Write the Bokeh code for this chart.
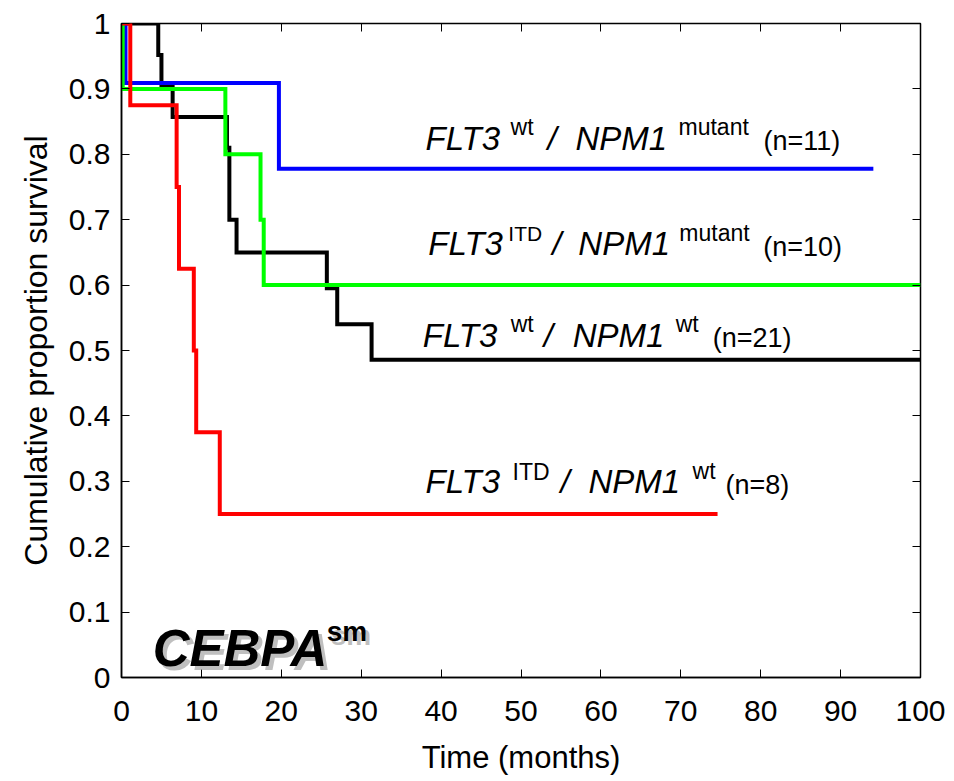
from bokeh.plotting import figure
from bokeh.models import Range1d, LinearAxis, FixedTicker, Label
from bokeh.embed import file_html
from bokeh.resources import INLINE

# Kaplan-Meier curves: event times (months) and survival after each step
wt_wt_time = [0, 4.6, 5.0, 6.4, 13.2, 13.5, 14.4, 25.7, 27.0, 31.3, 100]
wt_wt_surv = [1.0, 0.952, 0.905, 0.857, 0.81, 0.70, 0.65, 0.595, 0.54, 0.486, 0.486]

wt_mut_time = [0, 0.5, 19.7, 94.1]
wt_mut_surv = [1.0, 0.909, 0.778, 0.778]

itd_mut_time = [0, 0.15, 13.0, 17.4, 17.8, 100]
itd_mut_surv = [1.0, 0.9, 0.8, 0.7, 0.6, 0.6]

itd_wt_time = [0, 1.1, 6.9, 7.2, 9.05, 9.35, 12.3, 74.6]
itd_wt_surv = [1.0, 0.875, 0.75, 0.625, 0.5, 0.375, 0.25, 0.25]

# group sizes
n_wt_mut = 11
n_itd_mut = 10
n_wt_wt = 21
n_itd_wt = 8

x_ticks = [0, 10, 20, 30, 40, 50, 60, 70, 80, 90, 100]
y_ticks = [0, 0.1, 0.2, 0.3, 0.4, 0.5, 0.6, 0.7, 0.8, 0.9, 1]
y_tick_labels = ["0", "0.1", "0.2", "0.3", "0.4", "0.5", "0.6", "0.7", "0.8", "0.9", "1"]

FONT = "Liberation Sans"

p = figure(
    width=954, height=781,
    x_range=Range1d(0, 100), y_range=Range1d(0, 1),
    output_backend="svg", toolbar_location=None,
    min_border_left=121, min_border_right=34,
    min_border_top=23, min_border_bottom=104,
)
p.background_fill_color = "white"
p.border_fill_color = "white"
p.outline_line_color = "black"
p.outline_line_width = 1.5
p.xgrid.visible = False
p.ygrid.visible = False

# bottom axis
xa = p.xaxis[0]
xa.ticker = FixedTicker(ticks=x_ticks)
xa.major_tick_in = 8
xa.major_tick_out = 0
xa.minor_tick_line_color = None
xa.major_tick_line_color = "black"
xa.axis_line_color = "black"
xa.axis_line_width = 1.5
xa.major_label_text_font = FONT
xa.major_label_text_font_size = "30px"
xa.major_label_text_color = "black"
xa.major_label_standoff = 23
xa.axis_label = "Time (months)"
xa.axis_label_text_font = FONT
xa.axis_label_text_font_size = "31px"
xa.axis_label_text_font_style = "normal"
xa.axis_label_text_color = "black"
xa.axis_label_standoff = 16

# left axis
ya = p.yaxis[0]
ya.ticker = FixedTicker(ticks=y_ticks)
ya.major_label_overrides = dict(zip(y_ticks, y_tick_labels))
ya.major_tick_in = 8
ya.major_tick_out = 0
ya.minor_tick_line_color = None
ya.major_tick_line_color = "black"
ya.axis_line_color = "black"
ya.axis_line_width = 1.5
ya.major_label_text_font = FONT
ya.major_label_text_font_size = "30px"
ya.major_label_text_color = "black"
ya.major_label_standoff = 11
ya.axis_label = "Cumulative proportion survival"
ya.axis_label_text_font = FONT
ya.axis_label_text_font_size = "32px"
ya.axis_label_text_font_style = "normal"
ya.axis_label_text_color = "black"
ya.axis_label_standoff = 12

# mirrored tick marks on the top and right edges
for ticks, side in ((x_ticks, "above"), (y_ticks, "right")):
    ax = LinearAxis(
        ticker=FixedTicker(ticks=ticks),
        major_tick_in=8, major_tick_out=0,
        minor_tick_line_color=None,
        axis_line_color=None,
        major_label_text_color=None,
        major_label_text_font_size="1px",
        major_label_standoff=0,
    )
    p.add_layout(ax, side)

# survival curves
curves = [
    (wt_wt_time, wt_wt_surv, "black"),
    (wt_mut_time, wt_mut_surv, "#0000ff"),
    (itd_mut_time, itd_mut_surv, "#00ff00"),
    (itd_wt_time, itd_wt_surv, "#ff0000"),
]
for t, s, c in curves:
    p.step(x=t, y=s, mode="after", line_width=4, line_color=c, line_join="miter")

LIFT = 12  # px, baseline correction for the text pieces


def rich_label(x, y, parts):
    """Draw a run of text pieces (offsets in px from a data anchor)."""
    for text, dx, dy, size, style in parts:
        p.add_layout(Label(
            x=x, y=y, x_offset=dx, y_offset=dy + LIFT, text=text,
            text_font=FONT, text_font_size=f"{size}px", text_font_style=style,
            text_baseline="alphabetic", text_align="left", text_color="black",
        ))


BIG, SUP, SMALL = 33, 23, 27
rich_label(38.05, 0.806, [
    ("FLT3", 0, 0, BIG, "italic"), ("wt", 85, 11, SUP, "normal"),
    ("/", 122, 0, BIG, "italic"), ("NPM1", 150, 0, BIG, "italic"),
    ("mutant", 253, 11, SUP, "normal"), (f"(n={n_wt_mut})", 338, -3, SMALL, "normal"),
])
rich_label(38.4, 0.645, [
    ("FLT3", 0, 0, BIG, "italic"), ("ITD", 80, 10, 21, "normal"),
    ("/", 124, 0, BIG, "italic"), ("NPM1", 150, 0, BIG, "italic"),
    ("mutant", 251, 11, SUP, "normal"), (f"(n={n_itd_mut})", 335, -3, SMALL, "normal"),
])
rich_label(37.7, 0.505, [
    ("FLT3", 0, 0, BIG, "italic"), ("wt", 88, 11, SUP, "normal"),
    ("/", 121, 0, BIG, "italic"), ("NPM1", 150, 0, BIG, "italic"),
    ("wt", 253, 11, SUP, "normal"), (f"(n={n_wt_wt})", 290, -3, SMALL, "normal"),
])
rich_label(38.05, 0.281, [
    ("FLT3", 0, 0, BIG, "italic"), ("ITD", 87, 10, SUP, "normal"),
    ("/", 135, 0, BIG, "italic"), ("NPM1", 163, 0, BIG, "italic"),
    ("wt", 267, 11, SUP, "normal"), (f"(n={n_itd_wt})", 300, -3, SMALL, "normal"),
])

# panel tag with a soft drop shadow
for dx, dy, col, alpha in ((4, -4, "#808080", 0.5), (0, 0, "black", 1.0)):
    p.add_layout(Label(x=3.9, y=0.023, x_offset=dx, y_offset=dy + 14, text="CEBPA",
                       text_font=FONT, text_font_size="51px", text_font_style="bold italic",
                       text_baseline="alphabetic", text_color=col, text_alpha=alpha))
    p.add_layout(Label(x=3.9, y=0.023, x_offset=174 + dx, y_offset=31 + dy, text="sm",
                       text_font=FONT, text_font_size="28px", text_font_style="bold",
                       text_baseline="alphabetic", text_color=col, text_alpha=alpha))

open("out.html", "w").write(file_html(p, INLINE))
